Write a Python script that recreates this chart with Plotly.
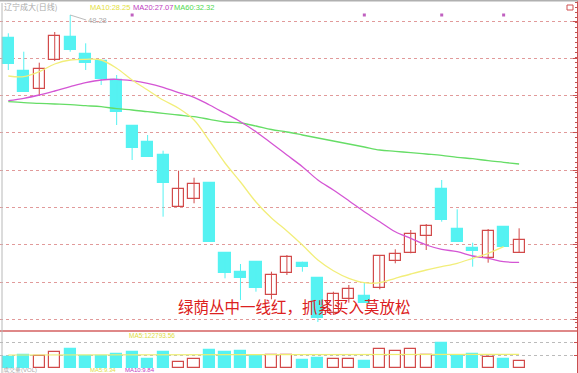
import plotly.graph_objects as go

W, H = 578, 373
PLOT_W = 577

# ---------------- data ----------------
idx = list(range(34))
opens = [45.95, 42.71, 40.85, 43.78, 46.11, 44.35, 43.68, 41.78, 37.21, 35.58, 34.28, 29.08, 29.85, 31.45,
         24.51, 22.61, 23.61, 20.28, 22.51, 23.45, 21.95, 18.45, 19.85, 20.18, 20.95, 23.71, 24.45, 26.18,
         30.88, 26.91, 24.98, 23.95, 27.11, 24.51]
closes = [43.35, 40.61, 42.91, 46.18, 44.78, 43.51, 41.85, 38.61, 34.95, 34.11, 31.45, 30.88, 31.38, 25.61,
          22.45, 22.01, 20.95, 22.28, 24.05, 23.05, 17.98, 20.38, 20.85, 19.51, 24.18, 24.38, 26.38, 27.18,
          27.78, 25.58, 24.71, 26.71, 25.11, 25.78]
highs = [46.45, 44.61, 43.51, 46.58, 48.28, 45.45, 43.78, 42.28, 37.28, 36.28, 34.71, 32.71, 32.01, 31.48,
         24.51, 23.38, 23.61, 22.61, 24.28, 23.61, 21.98, 20.61, 21.28, 21.51, 24.28, 24.85, 26.78, 27.38,
         31.78, 28.85, 25.51, 26.88, 27.11, 26.95]
lows = [42.78, 40.61, 40.18, 43.68, 44.61, 42.78, 41.28, 37.28, 33.78, 34.11, 28.11, 29.08, 29.45, 25.61,
        21.95, 19.78, 20.61, 19.85, 22.28, 22.61, 17.58, 18.28, 19.51, 19.51, 20.85, 23.45, 24.45, 24.78,
        27.61, 25.58, 23.11, 23.51, 25.11, 24.51]
ma10 = [42.18, 42.11, 42.61, 43.38, 43.78, 43.85, 43.78, 42.95, 41.78, 40.78, 39.78, 38.95, 37.78, 35.68,
        33.48, 31.58, 29.58, 27.98, 26.68, 25.28, 23.78, 22.71, 21.95, 21.51, 21.51, 21.95, 22.38, 22.78,
        23.11, 23.45, 23.95, 24.45, 25.11, None]
ma20 = [39.71, 39.95, 40.28, 40.68, 41.11, 41.51, 41.78, 41.85, 41.71, 41.45, 41.05, 40.51, 40.05, 39.28,
        38.45, 37.61, 36.61, 35.45, 34.28, 33.11, 31.78, 30.78, 29.71, 28.61, 27.61, 26.61, 25.95, 25.28,
        24.85, 24.61, 24.18, 23.95, 23.61, 23.55]
ma60 = [39.61, 39.51, 39.45, 39.38, 39.31, 39.21, 39.11, 38.91, 38.78, 38.61, 38.45, 38.28, 38.11, 37.85,
        37.58, 37.48, 37.18, 36.83, 36.58, 36.28, 35.98, 35.68, 35.38, 35.08, 34.78, 34.65, 34.51, 34.38,
        34.25, 34.05, 33.91, 33.71, 33.55, 33.38]
volumes = [104000, 130000, 117000, 154000, 187000, 120000, 117000, 134000, 154000, 84000, 160000, 60000,
           84000, 177000, 154000, 167000, 117000, 124000, 124000, 77000, 100000, 90000, 90000, 67000,
           184000, 167000, 184000, 127000, 250000, 117000, 134000, 104000, 84000, 70000]
vol_ma = [127000, 127000, 127000, 127000, 127000, 127000, 127000, 127000, 127000, 127000, 127000, 127000,
          127000, 128000, 128000, 128000, 128000, 128000, 128000, 128000, 129000, 129000, 129000, 129000,
          130000, 130000, 130000, 131000, 131000, 132000, 132000, 133000, 133000, 133000]
event_idx = [8, 23, 28, 32]
event_level = 48.28
price_grid = [47.68, 43.95, 40.22, 36.49, 32.76, 29.03, 25.30, 21.57, 17.84]
vol_grid = [125000, 250000]

title_text = "辽宁成大(日线)"
ma_labels = ["MA10:28.25", "MA20:27.07", "MA60:32.32"]
slogan = "绿荫丛中一线红，抓紧买入莫放松"
high_label = "48.28"
vol_label = "MA5:122793.56"

# ---------------- styles ----------------
CYAN = "#55f2f2"
RED = "#d24a4a"
YEL = "#f2ee7a"
PINK = "#d455d4"
GRN = "#66dd66"
GRID = "rgba(215,120,120,0.75)"


def px(x):
    return x / PLOT_W


def py(y):
    return 1 - y / H


up = [c >= o for o, c in zip(opens, closes)]

fig = go.Figure()

# wicks
for is_up, col in [(True, RED), (False, CYAN)]:
    wx, wy = [], []
    for i in idx:
        if up[i] == is_up:
            wx += [i, i, None]
            wy += [lows[i], highs[i], None]
    fig.add_trace(go.Scatter(x=wx, y=wy, mode="lines", line=dict(color=col, width=1),
                             hoverinfo="skip", showlegend=False))

# bodies
for is_up in (True, False):
    sel = [i for i in idx if up[i] == is_up]
    base = [min(opens[i], closes[i]) for i in sel]
    hgt = [max(abs(closes[i] - opens[i]), 0.12) for i in sel]
    fig.add_trace(go.Bar(
        x=sel, y=hgt, base=base, width=0.72,
        marker=dict(color="white" if is_up else CYAN,
                    line=dict(color=RED if is_up else CYAN, width=1.2)),
        showlegend=False, hoverinfo="skip"))

# moving averages
for vals, col in [(ma60, GRN), (ma20, PINK), (ma10, YEL)]:
    fig.add_trace(go.Scatter(x=idx, y=vals, mode="lines", line=dict(color=col, width=1.3, shape="spline"),
                             hoverinfo="skip", showlegend=False))

# event markers
fig.add_trace(go.Scatter(x=event_idx, y=[event_level] * len(event_idx), mode="markers",
                         marker=dict(symbol="square", size=3, color="#c060c0"),
                         hoverinfo="skip", showlegend=False))

# volume bars
for is_up in (True, False):
    sel = [i for i in idx if up[i] == is_up]
    fig.add_trace(go.Bar(
        x=sel, y=[volumes[i] for i in sel], width=0.72, yaxis="y2",
        marker=dict(color="white" if is_up else CYAN,
                    line=dict(color=RED if is_up else CYAN, width=1.2)),
        showlegend=False, hoverinfo="skip"))
fig.add_trace(go.Scatter(x=idx, y=vol_ma, yaxis="y2", mode="lines", line=dict(color="#eeee70", width=1.2),
                         hoverinfo="skip", showlegend=False))

split = 1 - 331 / H

fig.update_layout(
    width=W, height=H,
    margin=dict(l=0, r=1, t=0, b=0, pad=0, autoexpand=False),
    paper_bgcolor="white", plot_bgcolor="white",
    barmode="overlay", bargap=0,
    xaxis=dict(range=[-0.536, 36.74], showgrid=False, zeroline=False, showticklabels=False,
               ticks="", showline=False, fixedrange=True, automargin=False),
    yaxis=dict(domain=[split, 1.0], range=[16.68, 49.78], side="right", automargin=False,
               tickvals=price_grid, showticklabels=False, ticks="inside", ticklen=4,
               tickcolor="#c85050", showline=True, linecolor="#c85050", linewidth=1,
               showgrid=True, gridcolor=GRID, griddash="dot", gridwidth=1, zeroline=False,
               minor=dict(ticks="inside", ticklen=2, tickcolor="#c85050", showgrid=False, nticks=20)),
    yaxis2=dict(domain=[0, split], range=[-53000, 367000], side="right", anchor="x", automargin=False,
                tickvals=vol_grid, showticklabels=False, ticks="inside", ticklen=3, tickcolor="#c85050",
                showline=True, linecolor="#c85050", showgrid=True, gridcolor="rgba(170,170,170,0.8)",
                griddash="dot", zeroline=False),
    font=dict(family="Noto Sans CJK SC, Noto Sans, sans-serif"),
)

shapes = [
    dict(type="line", xref="paper", yref="paper", x0=0, x1=1, y0=split, y1=split,
         line=dict(color="#d46060", width=1.3)),
    dict(type="line", xref="paper", yref="paper", x0=px(2), x1=px(2), y0=0, y1=py(3),
         line=dict(color="#b8b8b8", width=1)),
    dict(type="rect", xref="paper", yref="paper", x0=0, x1=1.002, y0=py(1.5), y1=1,
         line=dict(width=0), fillcolor="#b0b0b0"),
    dict(type="rect", xref="paper", yref="paper", x0=px(567), x1=px(573), y0=py(10), y1=py(5),
         line=dict(color="#d05050", width=1), fillcolor="rgba(0,0,0,0)"),
]
fig.update_layout(shapes=shapes)

ann = []
ann.append(dict(text=title_text, x=px(2), y=py(6.5), xref="paper", yref="paper", xanchor="left",
                yanchor="middle", showarrow=False, font=dict(size=8, color="#aaaaaa")))
label_x = [88, 131, 172]
for t, xx, col in zip(ma_labels, label_x, ["#e4e040", "#c040c0", "#50d850"]):
    ann.append(dict(text=t, x=px(xx), y=py(7), xref="paper", yref="paper", xanchor="left",
                    yanchor="middle", showarrow=False,
                    font=dict(size=7.5, color=col, family="Liberation Sans, Arial")))
ann.append(dict(text=high_label, x=4, y=highs[4], xref="x", yref="y", showarrow=True, arrowhead=0,
                arrowwidth=0.8, arrowcolor="#aaaaaa", ax=16, ay=5, xanchor="left",
                font=dict(size=7.5, color="#aaaaaa", family="Liberation Sans, Arial")))
ann.append(dict(text=slogan, x=px(294), y=py(318.5), xref="paper", yref="paper", showarrow=False,
                font=dict(size=15.5, color="#dc2020", family="Noto Sans CJK SC")))
ann.append(dict(text=vol_label, x=px(127), y=py(335.5), xref="paper", yref="paper", xanchor="left",
                yanchor="middle", showarrow=False,
                font=dict(size=6.5, color="#e0dc40", family="Liberation Sans, Arial")))
for t, xx, col in [("成交量(VOL)", 1, "#aaaaaa"), ("MA5:9.34", 88, "#e0dc40"), ("MA10:9.84", 123, "#c040c0")]:
    ann.append(dict(text=t, x=px(xx), y=py(369.5), xref="paper", yref="paper", xanchor="left",
                    yanchor="middle", showarrow=False,
                    font=dict(size=6, color=col, family="Liberation Sans, Arial")))
fig.update_layout(annotations=ann)

fig.write_html("out.html", config={"displayModeBar": False},
               post_script="document.body.style.margin='0';document.body.style.padding='0';"
                           "document.body.style.overflow='hidden';")
